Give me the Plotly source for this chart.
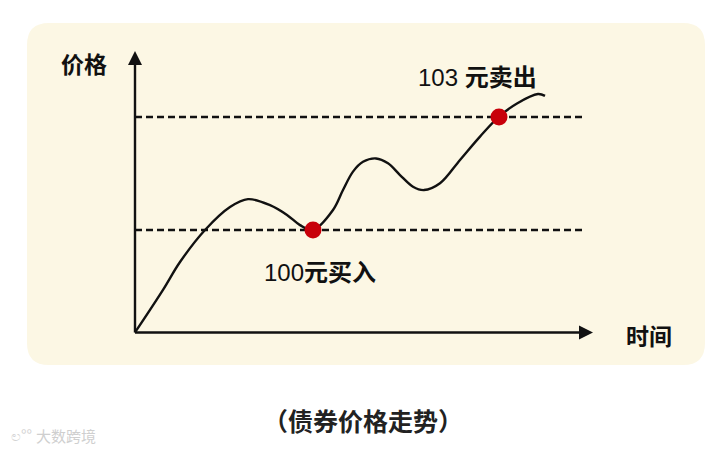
import plotly.graph_objects as go

# ---- data ----
time = [0, 2.8, 4.5, 7.0, 9.5, 11.3, 13.5, 15.2, 16.5, 17.8,
        19.8, 20.8, 21.8, 22.8, 24.1, 25.3, 26.5, 27.8, 28.9, 30.5,
        32.5, 34.5, 36.4, 38.2, 40.3, 41.0]
price = [97.28, 98.41, 99.15, 100.0, 100.61, 100.82, 100.66, 100.40, 100.13, 100.0,
         100.53, 101.06, 101.55, 101.81, 101.90, 101.77, 101.46, 101.15, 101.06, 101.24,
         101.86, 102.48, 103.01, 103.36, 103.61, 103.56]

buy_time, buy_price = 17.8, 100.0
sell_time, sell_price = 36.4, 103.0
ref_levels = [100.0, 103.0]
ref_end = 44.8
origin_price = 97.28
y_tip = 104.75
x_tip = 45.8

labels = {"y": "价格", "x": "时间", "buy_num": "100", "buy_txt": "元买入",
          "sell_num": "103 ", "sell_txt": "元卖出",
          "caption": "（债券价格走势）", "mark": "大数跨境"}

# page body has an 8px margin -> shrink figure and shift everything by 8px
OFF = 8
W, H = 722 - OFF, 450 - OFF
XR = [(OFF - 135) / 10, (722 - 135) / 10]
YR = [100 - (450 - 230) / 37.667, 100 + (230 - OFF) / 37.667]

FONT = "Liberation Sans, Arial, Noto Sans CJK SC, sans-serif"
CJK = "Noto Sans CJK SC, sans-serif"


def px(x):
    return (x - OFF) / W


def py(y):
    return 1 - (y - OFF) / H


fig = go.Figure()

# rounded cream panel (paper coords)
L, T, R, B, r = 27, 23, 705, 365, 22
path = (f"M {px(L+r)},{py(T)} L {px(R-r)},{py(T)} Q {px(R)},{py(T)} {px(R)},{py(T+r)} "
        f"L {px(R)},{py(B-r)} Q {px(R)},{py(B)} {px(R-r)},{py(B)} "
        f"L {px(L+r)},{py(B)} Q {px(L)},{py(B)} {px(L)},{py(B-r)} "
        f"L {px(L)},{py(T+r)} Q {px(L)},{py(T)} {px(L+r)},{py(T)} Z")
fig.add_shape(type="path", path=path, xref="paper", yref="paper",
              fillcolor="#FCF7E4", line=dict(width=0), layer="below")

INK = "#111111"

# dashed reference lines
for lv in ref_levels:
    fig.add_trace(go.Scatter(x=[0, ref_end], y=[lv, lv], mode="lines",
                             line=dict(color=INK, width=2.4, dash="7px,4px"),
                             hoverinfo="skip", showlegend=False))

# axes lines
fig.add_trace(go.Scatter(x=[0, 0], y=[origin_price, y_tip - 0.2], mode="lines",
                         line=dict(color=INK, width=2.4), hoverinfo="skip", showlegend=False))
fig.add_trace(go.Scatter(x=[0, x_tip - 0.5], y=[origin_price, origin_price], mode="lines",
                         line=dict(color=INK, width=2.4), hoverinfo="skip", showlegend=False))
# arrow heads
fig.add_trace(go.Scatter(x=[0], y=[y_tip], mode="markers",
                         marker=dict(symbol="arrow-up", size=14, color=INK, line=dict(width=0)),
                         hoverinfo="skip", showlegend=False))
fig.add_trace(go.Scatter(x=[x_tip], y=[origin_price], mode="markers",
                         marker=dict(symbol="arrow-right", size=14, color=INK, line=dict(width=0)),
                         hoverinfo="skip", showlegend=False))

# price curve
fig.add_trace(go.Scatter(x=time, y=price, mode="lines",
                         line=dict(color=INK, width=2.4, shape="spline", smoothing=1.0),
                         hoverinfo="skip", showlegend=False))

# buy / sell dots
fig.add_trace(go.Scatter(x=[buy_time, sell_time], y=[buy_price, sell_price], mode="markers",
                         marker=dict(size=17, color="#C8000A", line=dict(width=0)),
                         hoverinfo="skip", showlegend=False))


def label(xp, yp, text, family, size, color):
    fig.add_annotation(x=px(xp), y=py(yp), xref="paper", yref="paper", text=text,
                       xanchor="center", yanchor="middle", showarrow=False,
                       font=dict(family=family, size=size, color=color))


label(84, 63, f"<b>{labels['y']}</b>", CJK, 23, INK)
label(649, 335, f"<b>{labels['x']}</b>", CJK, 23, INK)
label(477, 77, f"{labels['sell_num']}<b>{labels['sell_txt']}</b>", FONT, 24, INK)
label(320, 272, f"{labels['buy_num']}<b>{labels['buy_txt']}</b>", FONT, 24, INK)
label(363, 420, f"<b>{labels['caption']}</b>", CJK, 25, "#222222")
label(66, 435, labels["mark"], CJK, 15, "#CFCFCF")
label(21, 434, "ಲ°°", CJK, 15, "#D4D4D4")

fig.update_layout(
    width=W, height=H, margin=dict(l=0, r=0, t=0, b=0),
    paper_bgcolor="white", plot_bgcolor="rgba(0,0,0,0)",
    xaxis=dict(range=XR, visible=False, fixedrange=True),
    yaxis=dict(range=YR, visible=False, fixedrange=True),
    showlegend=False,
)

fig.write_html("out.html")
